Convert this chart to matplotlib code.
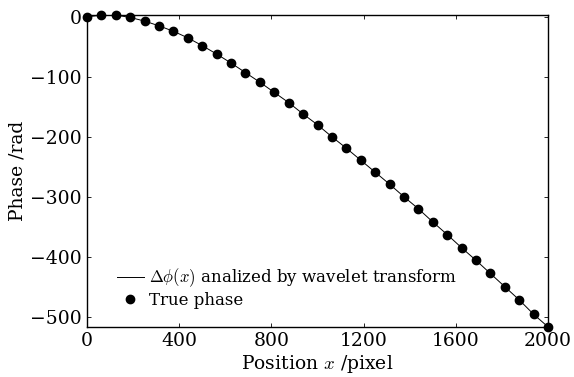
import numpy as np
import matplotlib.pyplot as plt

# position along the line (pixel) and the phase read at each sample (rad)
position = np.arange(0, 2000.1, 62.5)
true_phase = [0, 3, 3, -1, -7, -15, -24, -35, -48, -62, -77, -93, -109,
              -126, -143, -162, -180, -200, -219, -239, -259, -279, -300,
              -320, -342, -363, -385, -406, -428, -450, -472, -496, -517]
wavelet_phase = true_phase

xticks = [0, 400, 800, 1200, 1600, 2000]
yticks = [0, -100, -200, -300, -400, -500]

plt.rcParams['font.family'] = 'serif'
plt.rcParams['font.serif'] = ['DejaVu Serif']
plt.rcParams['mathtext.fontset'] = 'cm'

fig = plt.figure(figsize=(5.74, 3.77), dpi=100)
ax = fig.add_axes([0.1516, 0.133, 0.8031, 0.827])

ax.plot(position, wavelet_phase, color='black', lw=0.7,
        label=r'$\Delta\phi(x)$ analized by wavelet transform')
ax.plot(position, true_phase, 'o', color='black', ms=6, ls='none',
        clip_on=False, label='True phase')

ax.set_xlim(0, 2000)
ax.set_ylim(-517, 3)
ax.set_xticks(xticks)
ax.set_yticks(yticks)
ax.set_xticklabels([str(t) for t in xticks])
ax.set_yticklabels([str(t).replace('-', '\u2212') for t in yticks])
ax.tick_params(direction='in', length=3, width=0.6, top=True, right=True,
               labelsize=13.5, pad=4)
for s in ax.spines.values():
    s.set_linewidth(1.0)

ax.set_xlabel(r'Position $x$ /pixel', fontsize=13.5, labelpad=2)
ax.set_ylabel('Phase /rad', fontsize=13.5, labelpad=2)

ax.legend(loc='lower left', bbox_to_anchor=(0.04, 0.02), frameon=False,
          fontsize=12, handlelength=1.6, handletextpad=0.3,
          labelspacing=0.15, borderpad=0.2)

fig.savefig('out.png', dpi=100)
